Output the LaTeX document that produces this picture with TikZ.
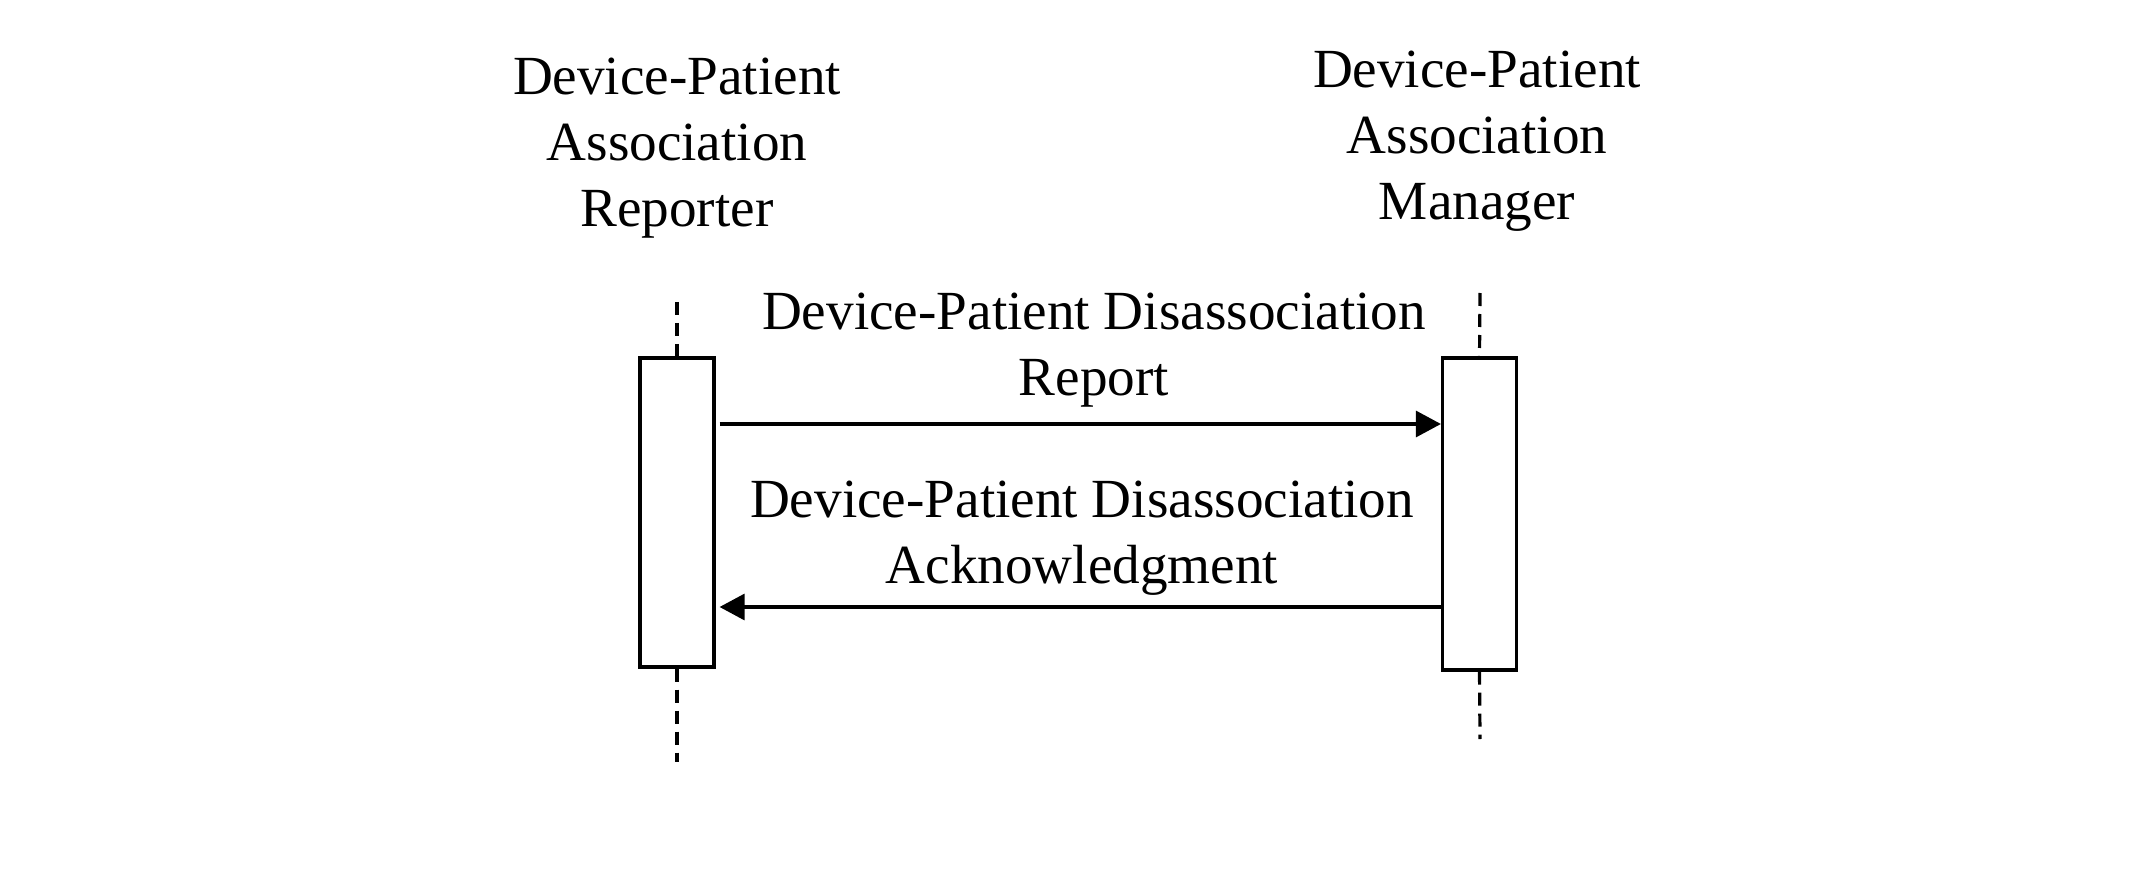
\documentclass[tikz,border=0pt]{standalone}
\usepackage{fontspec}
\setmainfont{Liberation Serif}
\usetikzlibrary{arrows.meta}

\begin{document}
\begin{tikzpicture}[x=0.5pt, y=-0.5pt, >={Triangle[length=12.5pt,width=13pt]},
  lbl/.style={align=center, font=\fontsize{27.6}{33}\selectfont, inner sep=0pt},
  actbox/.style={draw, line width=1.6pt, fill=white, minimum width=37pt, inner sep=0pt},
  lifeline/.style={line width=1.6pt, dash pattern=on 6.5pt off 4pt},
  msg/.style={->, line width=1.6pt}]

% Frame
\useasboundingbox (0,0) rectangle (2145,887);

% Actors
\node[lbl] (replbl) at (677,148) {Device-Patient\\Association\\Reporter};
\node[lbl] (manlbl) at (1477,141) {Device-Patient\\Association\\Manager};

% Lifelines
\coordinate (reptop) at (677,302);
\coordinate (repbot) at (677,762);
\coordinate (mantop) at (1480,293);
\coordinate (manbot) at (1480,739);

% Activation boxes
\node[actbox, minimum height=154.5pt] (rep) at (677,512.5) {};
\node[actbox, minimum height=156pt] (man) at (1479.5,514) {};

\draw[lifeline] (reptop) -- (rep.north);
\draw[lifeline] (rep.south) -- (repbot);
\draw[lifeline] (mantop) -- (man.north);
\draw[lifeline] (man.south) -- (manbot);

% Messages
\coordinate (m1) at (0,424);
\coordinate (m2) at (0,607);

\draw[msg, shorten <=2pt] (rep.east |- m1) -- (man.west |- m1);
\node[lbl] (m1lbl) at (1094,350) {Device-Patient Disassociation\\Report};

\draw[msg, shorten >=2pt] (man.west |- m2) -- (rep.east |- m2);
\node[lbl] (m2lbl) at (1082,538) {Device-Patient Disassociation\\Acknowledgment};

\end{tikzpicture}
\end{document}
